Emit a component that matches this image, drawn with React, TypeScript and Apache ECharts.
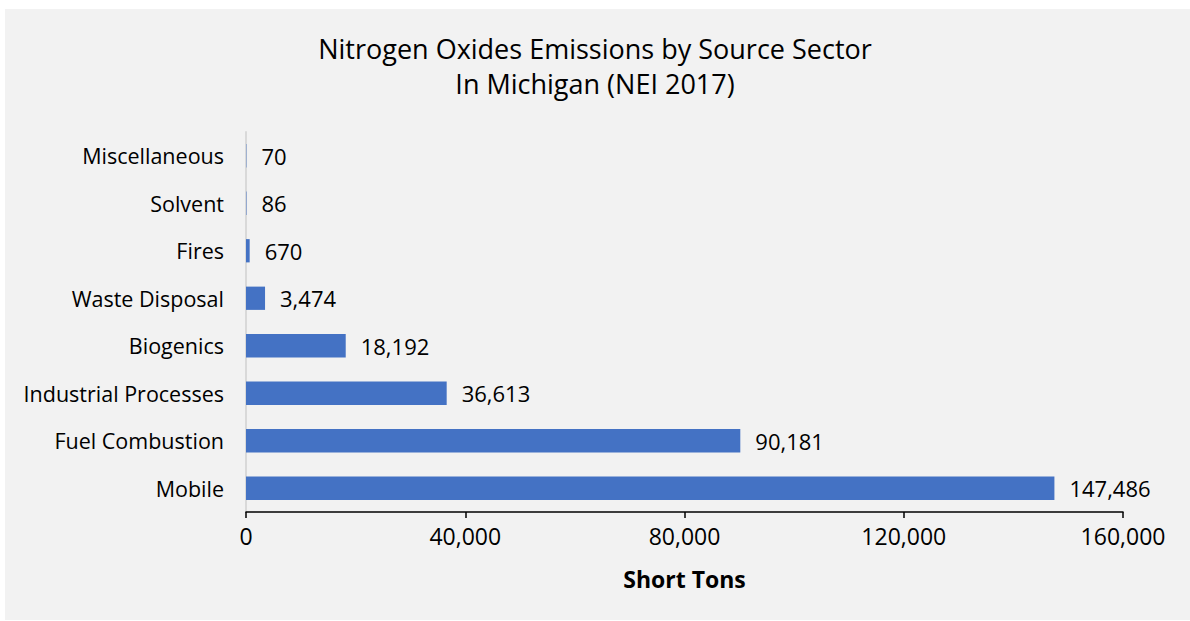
import React, { useEffect, useRef } from "react";
import * as echarts from "echarts";

const categories = [
  "Mobile",
  "Fuel Combustion",
  "Industrial Processes",
  "Biogenics",
  "Waste Disposal",
  "Fires",
  "Solvent",
  "Miscellaneous",
];
const emissions = [147486, 90181, 36613, 18192, 3474, 670, 86, 70];
const titleLines = ["Nitrogen Oxides Emissions by Source Sector", "In Michigan (NEI 2017)"];
const xTicks = { min: 0, max: 160000, interval: 40000 };

const FONT = "'Open Sans', Lato, sans-serif";

export default function App() {
  const ref = useRef<HTMLDivElement>(null);
  useEffect(() => {
    if (!ref.current) return;
    const chart = echarts.init(ref.current, null, { renderer: "svg" });
    chart.setOption({
      animation: false,
      backgroundColor: "#ffffff",
      graphic: [
        {
          type: "rect",
          z: -10,
          silent: true,
          shape: { x: 5, y: 9, width: 1185, height: 611 },
          style: { fill: "#f2f2f2" },
        },
      ],
      title: {
        text: titleLines.join("\n"),
        left: "center",
        top: 26,
        textStyle: {
          fontFamily: FONT,
          fontSize: 27,
          fontWeight: "normal",
          color: "#000000",
          lineHeight: 35,
        },
      },
      grid: { left: 246, right: 67, top: 132, bottom: 109, containLabel: false },
      xAxis: {
        type: "value",
        min: xTicks.min,
        max: xTicks.max,
        interval: xTicks.interval,
        name: "Short Tons",
        nameLocation: "middle",
        nameGap: 55,
        nameTextStyle: {
          fontFamily: FONT,
          fontSize: 23,
          fontWeight: "bold",
          color: "#000000",
        },
        axisLine: { show: true, lineStyle: { color: "#000000", width: 1.5 } },
        axisTick: { show: true, length: 6, lineStyle: { color: "#000000", width: 1.5 } },
        splitLine: { show: false },
        axisLabel: {
          fontFamily: FONT,
          fontSize: 23,
          color: "#000000",
          margin: 12,
          formatter: (v: number) => v.toLocaleString("en-US"),
        },
      },
      yAxis: {
        type: "category",
        data: categories,
        axisLine: { show: true, lineStyle: { color: "#d9d9d9", width: 2 } },
        axisTick: { show: false },
        axisLabel: {
          fontFamily: FONT,
          fontSize: 21.5,
          color: "#000000",
          margin: 22,
        },
      },
      series: [
        {
          type: "bar",
          data: emissions,
          barWidth: "49%",
          itemStyle: { color: "#4472c4" },
          label: {
            show: true,
            position: "right",
            distance: 15,
            fontFamily: FONT,
            fontSize: 22,
            color: "#000000",
            formatter: (p: any) => Number(p.value).toLocaleString("en-US"),
          },
        },
      ],
    });
    return () => chart.dispose();
  }, []);
  return (
    <div
      ref={ref}
      style={{ position: "absolute", left: 0, top: 0, width: 1190, height: 621 }}
    />
  );
}
